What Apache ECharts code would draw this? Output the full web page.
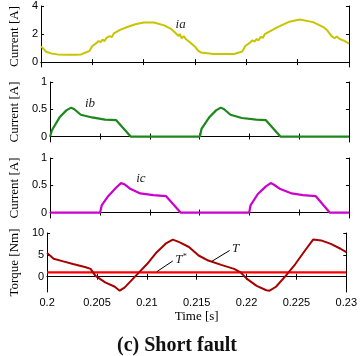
<!DOCTYPE html>
<html>
<head>
<meta charset="utf-8">
<script src="https://cdn.jsdelivr.net/npm/echarts@6/dist/echarts.min.js"></script>
<style>
  html, body { margin: 0; padding: 0; background: #fff; }
  #main { width: 360px; height: 356px; }
</style>
</head>
<body>
<div id="main"></div>
<script>
// tick positions
const timeTicks = [0.2, 0.205, 0.21, 0.215, 0.22, 0.225, 0.23];
const iaTicks = [0, 2, 4];
const ibcTicks = [0, 0.5, 1];
const torqueTicks = [0, 5, 10];

// phase a current
const iaTime = [0.2000, 0.2005, 0.2010, 0.2016, 0.2026, 0.2034, 0.2039, 0.2044, 0.2047, 0.2050,
  0.2054, 0.2056, 0.2058, 0.2060, 0.2062, 0.2064, 0.2065, 0.2067, 0.2069, 0.2071,
  0.2077, 0.2084, 0.2092, 0.2100, 0.2110, 0.2120, 0.2127, 0.2130, 0.2132, 0.2134,
  0.2135, 0.2137, 0.2139, 0.2141, 0.2145, 0.2150, 0.2153, 0.2156, 0.2168, 0.2188,
  0.2196, 0.2199, 0.2203, 0.2206, 0.2208, 0.2210, 0.2212, 0.2214, 0.2216, 0.2218,
  0.2230, 0.2242, 0.2252, 0.2265, 0.2275, 0.2279, 0.2281, 0.2283, 0.2284, 0.2286,
  0.2288, 0.2291, 0.2296, 0.2300];
const iaVal = [1.12, 0.74, 0.62, 0.55, 0.52, 0.53, 0.55, 0.70, 0.78, 1.15,
  1.35, 1.50, 1.42, 1.60, 1.50, 1.75, 1.62, 1.85, 1.78, 2.05,
  2.30, 2.50, 2.70, 2.82, 2.82, 2.62, 2.35, 2.15, 2.00, 1.85,
  2.00, 1.70, 1.85, 1.65, 1.42, 1.10, 0.82, 0.68, 0.58, 0.58,
  0.76, 1.15, 1.35, 1.55, 1.45, 1.65, 1.55, 1.80, 1.72, 2.00,
  2.47, 2.88, 3.03, 2.85, 2.50, 2.25, 2.05, 1.85, 1.95, 1.70,
  1.82, 1.65, 1.50, 1.32];

// phase b current
const ibTime = [0.2000, 0.20016, 0.20097, 0.20162, 0.20210, 0.20242, 0.20307, 0.20420, 0.20550, 0.20663,
  0.20808, 0.21503, 0.21519, 0.21600, 0.21665, 0.21713, 0.21746, 0.21810, 0.21924, 0.22069,
  0.22166, 0.22311, 0.2300];
const ibVal = [0, 0.11, 0.36, 0.48, 0.53, 0.50, 0.40, 0.35, 0.31, 0.30,
  0, 0, 0.14, 0.36, 0.48, 0.53, 0.50, 0.40, 0.34, 0.31,
  0.30, 0, 0];

// phase c current
const icTime = [0.2000, 0.20501, 0.20517, 0.20582, 0.20663, 0.20711, 0.20744, 0.20808, 0.20905, 0.21034,
  0.21164, 0.21309, 0.21998, 0.22011, 0.22085, 0.22166, 0.22214, 0.22247, 0.22311, 0.22425,
  0.22538, 0.22667, 0.22806, 0.2300];
const icVal = [0, 0, 0.13, 0.30, 0.46, 0.54, 0.52, 0.43, 0.35, 0.32,
  0.30, 0, 0, 0.13, 0.34, 0.48, 0.54, 0.51, 0.43, 0.35,
  0.32, 0.30, 0, 0];

// torque and reference
const tqTime = [0.2000, 0.20065, 0.20162, 0.20259, 0.20388, 0.20436, 0.20485, 0.20582, 0.20679, 0.20727,
  0.20776, 0.20905, 0.21002, 0.21099, 0.21196, 0.21261, 0.21325, 0.21422, 0.21519, 0.21616,
  0.21746, 0.21875, 0.21940, 0.22004, 0.22101, 0.22198, 0.22231, 0.22295, 0.22392, 0.22489,
  0.22586, 0.22667, 0.22748, 0.22845, 0.22942, 0.2300];
const tqVal = [5.4, 4.1, 3.5, 2.9, 2.15, 1.8, 0.2, -1.3, -2.3, -3.2,
  -2.5, 0.6, 2.9, 5.6, 7.7, 8.5, 7.9, 6.8, 4.85, 3.7,
  2.7, 1.8, 1.0, -0.5, -2.1, -3.1, -3.2, -2.3, 0.2, 2.9,
  6.0, 8.5, 8.3, 7.5, 6.4, 5.6];
const tqRefTime = [0.2, 0.23];
const tqRefVal = [1.0, 1.0];

const pairs = (xs, ys) => xs.map((x, i) => [x, ys[i]]);

const sansFont = "Liberation Sans";
const serifFont = "Liberation Serif";

const grids = [
  { left: 40, right: 11, top: 6, height: 61 },
  { left: 40, right: 11, top: 82, height: 60 },
  { left: 40, right: 11, top: 158, height: 60 },
  { left: 40, right: 11, top: 233, height: 59 },
];

const axisLine = { show: true, lineStyle: { color: "#000", width: 1 } };

function xAx(gi, pos, showLabel) {
  return {
    type: "value",
    gridIndex: gi,
    position: pos,
    min: 0.2,
    max: 0.23,
    axisLine,
    axisTick: { show: true, inside: true, length: 3, customValues: timeTicks, lineStyle: { color: "#000" } },
    axisLabel: {
      show: showLabel,
      customValues: timeTicks,
      color: "#000",
      fontFamily: sansFont,
      fontSize: 11,
      margin: 5,
      formatter: (v) => String(Number(v.toFixed(3))),
    },
    splitLine: { show: false },
    name: showLabel ? "Time [s]" : "",
    nameLocation: "middle",
    nameGap: 18,
    nameTextStyle: { color: "#000", fontFamily: serifFont, fontSize: 13 },
  };
}

function yAx(gi, pos, min, max, ticks, name) {
  return {
    type: "value",
    gridIndex: gi,
    position: pos,
    min,
    max,
    axisLine,
    axisTick: { show: true, inside: true, length: 3, customValues: ticks, lineStyle: { color: "#000" } },
    axisLabel: {
      show: pos === "left",
      customValues: ticks,
      color: "#000",
      fontFamily: sansFont,
      fontSize: 11,
      margin: 3,
    },
    splitLine: { show: false },
    name: pos === "left" ? name : "",
    nameLocation: "middle",
    nameGap: 18,
    nameTextStyle: { color: "#000", fontFamily: serifFont, fontSize: 13 },
  };
}

const xAxes = [];
const yAxes = [];
for (let g = 0; g < 4; g++) {
  xAxes.push(xAx(g, "bottom", g === 3));
  xAxes.push(xAx(g, "top", false));
}
yAxes.push(yAx(0, "left", -0.35, 4, iaTicks, "Current [A]"));
yAxes.push(yAx(0, "right", -0.35, 4, iaTicks, ""));
yAxes.push(yAx(1, "left", -0.1, 1, ibcTicks, "Current [A]"));
yAxes.push(yAx(1, "right", -0.1, 1, ibcTicks, ""));
yAxes.push(yAx(2, "left", -0.1, 1, ibcTicks, "Current [A]"));
yAxes.push(yAx(2, "right", -0.1, 1, ibcTicks, ""));
yAxes.push(yAx(3, "left", -3.5, 10, torqueTicks, "Torque [Nm]"));
yAxes.push(yAx(3, "right", -3.5, 10, torqueTicks, ""));

const italic = { fontFamily: serifFont, fontStyle: "italic", fontSize: 13, color: "#222" };

function tag(coord, text) {
  return {
    coord,
    symbol: "circle",
    symbolSize: 0,
    itemStyle: { color: "transparent" },
    label: {
      show: true,
      position: "inside",
      formatter: text,
      ...italic,
      rich: {
        s: { fontFamily: serifFont, fontSize: 8, color: "#222", verticalAlign: "top", padding: [0, 0, 6, 0] },
      },
    },
  };
}

function leader(a, b) {
  return [{ coord: a, symbol: "none" }, { coord: b, symbol: "none" }];
}

const option = {
  animation: false,
  backgroundColor: "#fff",
  title: {
    text: "(c) Short fault",
    left: 172,
    textAlign: "center",
    top: 331,
    textStyle: { fontFamily: serifFont, fontWeight: "bold", fontSize: 20, color: "#111" },
  },
  grid: grids,
  xAxis: xAxes,
  yAxis: yAxes,
  series: [
    {
      type: "line", xAxisIndex: 0, yAxisIndex: 0, showSymbol: false,
      data: pairs(iaTime, iaVal),
      lineStyle: { color: "#c8c400", width: 2 },
      markPoint: { silent: true, data: [tag([0.2136, 2.7], "ia")] },
    },
    {
      type: "line", xAxisIndex: 2, yAxisIndex: 2, showSymbol: false,
      data: pairs(ibTime, ibVal),
      lineStyle: { color: "#1d871d", width: 2.2 },
      markPoint: { silent: true, data: [tag([0.2040, 0.6], "ib")] },
    },
    {
      type: "line", xAxisIndex: 4, yAxisIndex: 4, showSymbol: false,
      data: pairs(icTime, icVal),
      lineStyle: { color: "#cc00cc", width: 2.2 },
      markPoint: { silent: true, data: [tag([0.2091, 0.62], "ic")] },
    },
    {
      type: "line", xAxisIndex: 6, yAxisIndex: 6, showSymbol: false,
      data: pairs(tqRefTime, tqRefVal),
      lineStyle: { color: "#ff0000", width: 2.2 },
      markPoint: { silent: true, data: [tag([0.2134, 3.9], "T{s|*}")] },
      markLine: {
        silent: true, symbol: "none", label: { show: false },
        lineStyle: { color: "#000", width: 1, type: "solid" },
        data: [leader([0.2110, 1.15], [0.2126, 3.6])],
      },
    },
    {
      type: "line", xAxisIndex: 6, yAxisIndex: 6, showSymbol: false,
      data: pairs(tqTime, tqVal),
      lineStyle: { color: "#a80000", width: 2 },
      markPoint: { silent: true, data: [tag([0.2189, 6.4], "T")] },
      markLine: {
        silent: true, symbol: "none", label: { show: false },
        lineStyle: { color: "#000", width: 1, type: "solid" },
        data: [leader([0.2165, 3.5], [0.2183, 6.0])],
      },
    },
  ],
};

const chart = echarts.init(document.getElementById("main"));
chart.setOption(option);
</script>
</body>
</html>
